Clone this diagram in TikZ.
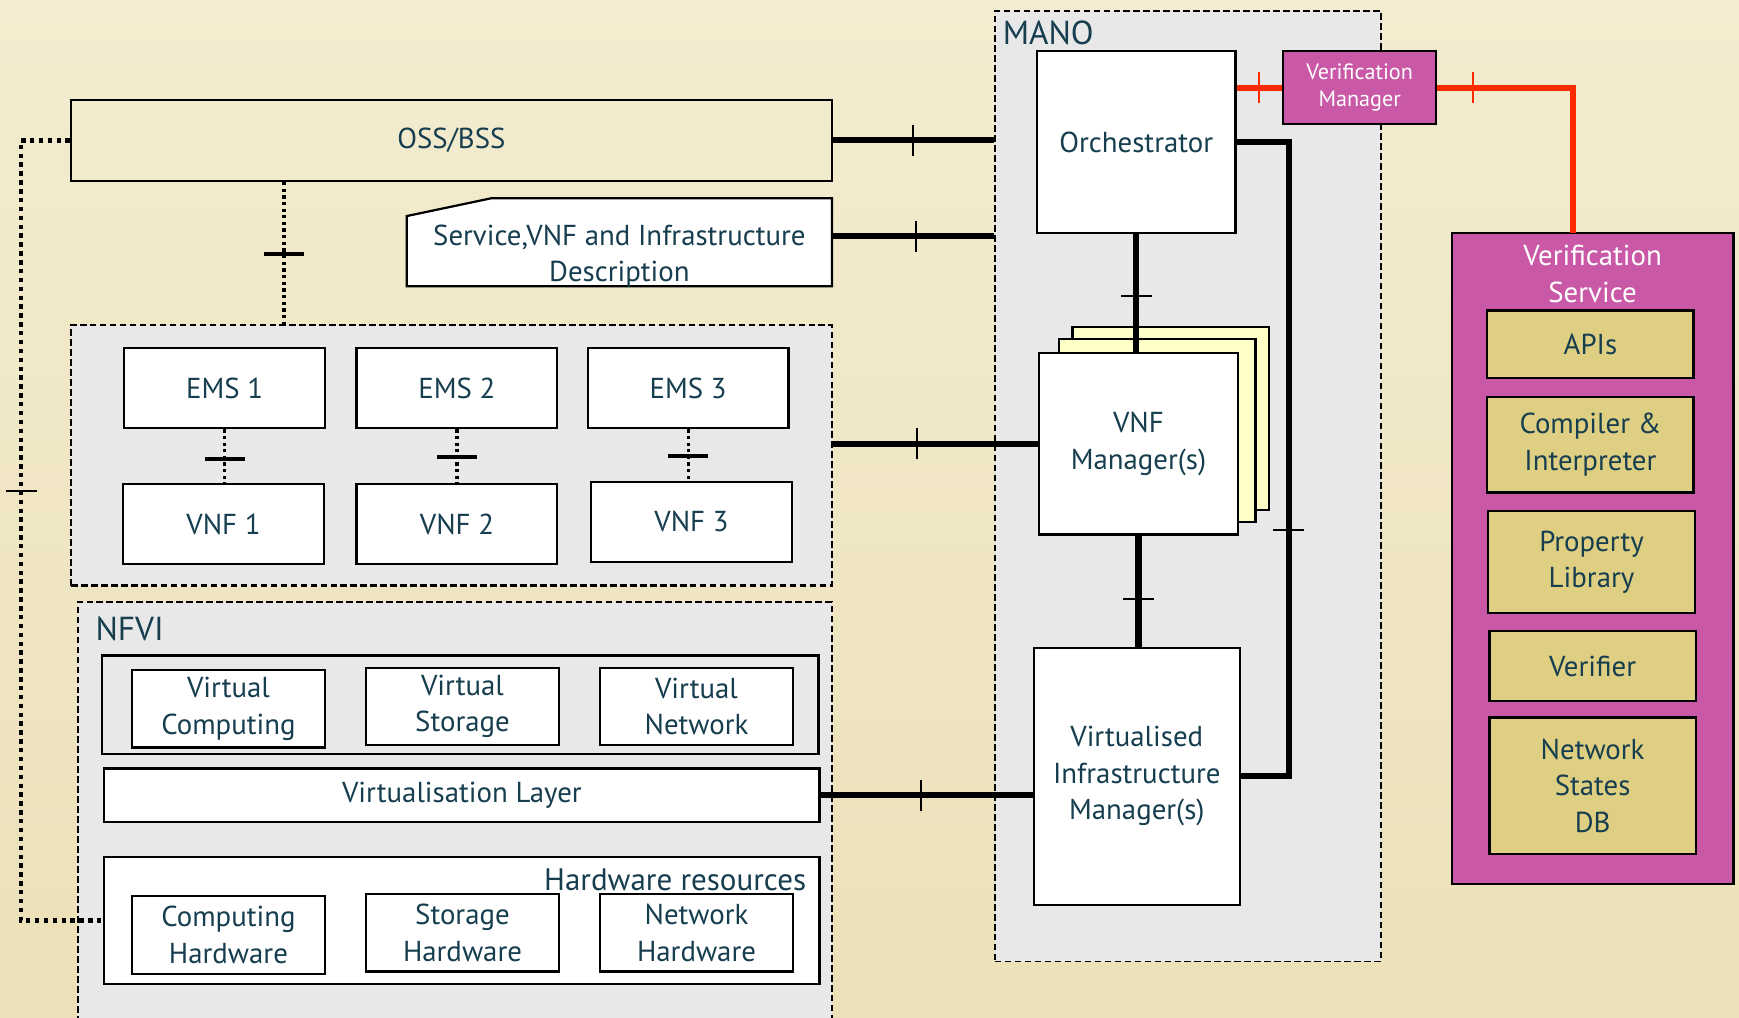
\documentclass[tikz,border=0pt]{standalone}
\usepackage{fontspec}
\setmainfont{PT Sans}
\usetikzlibrary{decorations.markings}

\definecolor{page top}{HTML}{F3ECD0}
\definecolor{page bottom}{HTML}{ECE0B8}
\definecolor{panel gray}{HTML}{E8E8E8}
\definecolor{label teal}{HTML}{163E4F}
\definecolor{verif magenta}{HTML}{C958A6}
\definecolor{verif khaki}{HTML}{DFCF82}
\definecolor{sheet yellow}{HTML}{FFFFC8}
\definecolor{link red}{HTML}{FF2A00}

\newcommand{\boxfont}{\fontsize{26}{33}\selectfont}
\newcommand{\smallboxfont}{\fontsize{20}{24}\selectfont}
\newcommand{\areafont}{\fontsize{30}{36}\selectfont}

\tikzset{
    x={1pt},
    y={-1pt},
    block/.style={
        draw=black, fill=white,
        line width={2pt},
        align=center,
        font=\boxfont,
        text=label teal,
        inner sep=0pt,
        minimum width={181},
        minimum height={72},
    },
    group/.style={
        draw=black, fill=panel gray,
        line width={2pt},
        dash pattern=on 6pt off 3pt,
        inner sep=0pt,
    },
    area label/.style={
        font=\areafont,
        text=label teal,
        inner sep=0pt,
    },
    verif block/.style={
        block, fill=verif khaki,
        minimum width={186},
    },
    link/.style={
        draw={#1},
        line width={5.5pt},
    },
    link/.default={black},
    dotted link/.style={
        draw=black,
        line width={#1},
        dash pattern=on #1 off #1,
    },
    dotted link/.default={4pt},
    cross bar/.style 2 args={
        postaction={decorate, decoration={markings,
            mark=at position #1 with {\draw[draw={#2}, line width={1.8pt}, solid] (0,-14) -- (0,14);}}},
    },
    cross bar/.default={0.5}{black},
    dot bar/.style={
        postaction={decorate, decoration={markings,
            mark=at position #1 with {\draw[draw=black, line width={4pt}, solid] (0,-18) -- (0,18);}}},
    },
}

\begin{document}
\begin{tikzpicture}
% page
\useasboundingbox (0,0) rectangle (1568,917);
\clip (0,0) rectangle (1568,917);
\shade[top color=page top, bottom color=page bottom] (0,0) rectangle (1568,917);
% areas
\node[group, minimum width={686}, minimum height={235}] (vnfs) at (407,410.5) {};
\node[group, minimum width={680}, minimum height={400}] (nfvi) at (410,743) {};
\node[group, line width={1.5pt}, minimum width={348}, minimum height={857}] (mano) at (1071,438.5) {};
\node[area label, anchor=west] (mano label) at (904,30) {MANO};
\node[area label, anchor=west] (nfvi label) at (86,567) {NFVI};
% OSS/BSS and descriptions
\node[block, fill=none, minimum width={686}, minimum height={73}] (oss) at (407,126.5) {OSS/BSS};
\node[minimum width={383}, minimum height={79}, inner sep=0pt] (desc) at (558.5,218.5) {};
\path[draw=black, fill=white, line width={2pt}] (desc.south west) -- (desc.south east) -- (desc.north east)
    -- ([xshift=76pt]desc.north west) -- ([yshift=-16pt]desc.north west) -- cycle;
\node[font=\boxfont, text=label teal, inner sep=0pt, align=center] (desc text) at (558.5,231) {Service,VNF and Infrastructure\\Description};
% VNFs
\node[block] (ems1) at (202.5,350) {EMS 1};
\node[block] (ems2) at (412,350) {EMS 2};
\node[block] (ems3) at (620.5,350) {EMS 3};
\node[block] (vnf1) at (201.5,472.5) {VNF 1};
\node[block] (vnf2) at (412,472.5) {VNF 2};
\node[block] (vnf3) at (623.5,470.5) {VNF 3};
% NFVI
\node[block, fill=panel gray, minimum width={646}, minimum height={89}] (virt) at (415,635.5) {};
\node[block, minimum width={174}, minimum height={70}] (vcomp) at (206,639) {Virtual\\Computing};
\node[block, minimum width={174}, minimum height={70}] (vstor) at (417,637) {Virtual\\Storage};
\node[block, minimum width={174}, minimum height={70}] (vnet) at (628,637) {Virtual\\Network};
\node[block, minimum width={645}, minimum height={48}] (vlayer) at (416.5,717) {Virtualisation Layer};
\node[block, minimum width={645}, minimum height={114}] (hw) at (416.5,830) {};
\node[area label, font=\fontsize{28}{34}\selectfont, anchor=east] (hw label) at (727,793) {Hardware resources};
\node[block, minimum width={174}, minimum height={70}] (hcomp) at (206,843) {Computing\\Hardware};
\node[block, minimum width={174}, minimum height={70}] (hstor) at (417,841) {Storage\\Hardware};
\node[block, minimum width={174}, minimum height={70}] (hnet) at (628,841) {Network\\Hardware};
% MANO
\node[block, minimum width={179}, minimum height={164}] (orch) at (1024.5,128) {Orchestrator};
\node[block, fill=sheet yellow, minimum width={177}, minimum height={165}] (vnfm back) at (1055.5,377) {};
\node[block, fill=sheet yellow, minimum width={177}, minimum height={165}] (vnfm middle) at (1043.5,388.5) {};
\node[block, minimum width={179}, minimum height={164}] (vnfm) at (1026.5,400) {VNF\\Manager(s)};
\node[block, minimum width={186}, minimum height={232}] (vim) at (1025,700) {Virtualised\\Infrastructure\\Manager(s)};
% verification
\node[block, fill=verif magenta, text=white, font=\smallboxfont, minimum width={138}, minimum height={66}] (vman) at (1226,79) {Verification\\Manager};
\node[block, fill=verif magenta, minimum width={254}, minimum height={587}] (vserv) at (1436,503.5) {};
\node[font=\boxfont, inner sep=0pt, text=white, align=center] (vserv label) at (1436,247) {Verification\\Service};
\node[verif block, minimum height={61}] (apis) at (1434,310.5) {APIs};
\node[verif block, minimum height={86}] (compiler) at (1434,401) {Compiler \&\\Interpreter};
\node[verif block, minimum height={92}] (props) at (1435,507) {Property\\Library};
\node[verif block, minimum height={63}] (verifier) at (1436,600.5) {Verifier};
\node[verif block, minimum height={123}] (statesdb) at (1436,708.5) {Network\\States\\DB};
\coordinate (vserv in) at (1418,210);
% reference points
\draw[link, cross bar={72pt}{black}] (oss.east) -- (oss.east -| mano.west);
\draw[link, cross bar={76pt}{black}] ([yshift=5.5pt]desc.east) -- ([yshift=5.5pt]desc.east -| mano.west);
\draw[link, cross bar={76pt}{black}] (vnfm.west -| vnfs.east) -- (vnfm.west);
\draw[link, cross bar={90pt}{black}] (vlayer.east) -- (vlayer.east -| vim.west);
\draw[link, cross bar={56pt}{black}] (orch.south) -- (orch.south |- vnfm.north);
\draw[link, cross bar={57pt}{black}] (vnfm.south) -- (vnfm.south |- vim.north);
\draw[link, cross bar={397pt}{black}] (orch.east) -- ++(47,0) |- (vim.east);
\draw[link={link red}, cross bar={20pt}{link red}] (orch.east |- vman.west) -- (vman.west);
\draw[link={link red}, cross bar={32pt}{link red}] (vman.east) -| (vserv in);
% dotted reference points
\draw[dotted link, cross bar={360pt}{black}] (oss.west) -- ++(-44,0) |- (hw.west);
\draw[dotted link={3pt}, dot bar={65pt}] ([xshift=-151pt]oss.south) -- ([xshift=-151pt]oss.south |- vnfs.north);
\draw[dotted link={3pt}, dot bar={27pt}] (ems1.south) -- (ems1.south |- vnf1.north);
\draw[dotted link={3pt}, dot bar={25pt}] (ems2.south) -- (ems2.south |- vnf2.north);
\draw[dotted link={3pt}, dot bar={24pt}] (ems3.south) -- (ems3.south |- vnf3.north);
\end{tikzpicture}
\end{document}
